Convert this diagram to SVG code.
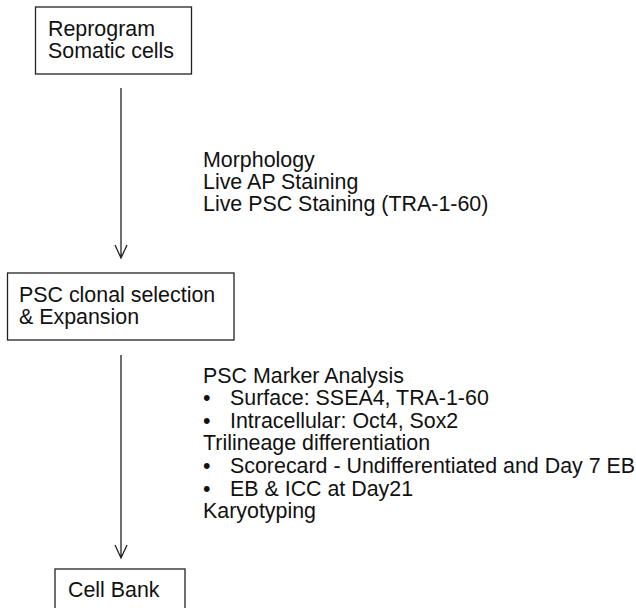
<svg xmlns="http://www.w3.org/2000/svg" width="636" height="608" viewBox="0 0 636 608">
  <style>
    .box { fill: #ffffff; stroke: #222222; stroke-width: 1.3; }
    .lbl { font-family: "Liberation Sans", Arial, Helvetica, sans-serif; font-size: 21.4px; fill: #111111; }
    .edge { fill: none; stroke: #222222; stroke-width: 1.3; }
  </style>
  <rect x="0" y="0" width="636" height="608" fill="#ffffff"/>

  <g id="reprogram">
    <rect class="box" x="35.5" y="7" width="156" height="67"/>
    <text class="lbl" x="48" y="36">Reprogram</text>
    <text class="lbl" x="48" y="58">Somatic cells</text>
  </g>

  <g id="clonal-selection">
    <rect class="box" x="7.5" y="273" width="226.5" height="67"/>
    <text class="lbl" x="19" y="302">PSC clonal selection</text>
    <text class="lbl" x="19" y="324">&amp; Expansion</text>
  </g>

  <g id="cell-bank">
    <rect class="box" x="55" y="569" width="130" height="60"/>
    <text class="lbl" x="68" y="597">Cell Bank</text>
  </g>

  <g id="connectors">
    <path class="edge" d="M121 88 V258 M115 245 L121 258 L127 245"/>
    <path class="edge" d="M121 355 V558 M115 545 L121 558 L127 545"/>
  </g>

  <g id="qc-reprogram">
    <text class="lbl" x="203" y="167">Morphology</text>
    <text class="lbl" x="203" y="189">Live AP Staining</text>
    <text class="lbl" x="203" y="211">Live PSC Staining (TRA-1-60)</text>
  </g>

  <g id="qc-expansion">
    <text class="lbl" x="203" y="383">PSC Marker Analysis</text>
    <text class="lbl" x="203" y="405">•</text>
    <text class="lbl" x="230" y="405">Surface: SSEA4, TRA-1-60</text>
    <text class="lbl" x="203" y="428">•</text>
    <text class="lbl" x="230" y="428">Intracellular: Oct4, Sox2</text>
    <text class="lbl" x="203" y="450">Trilineage differentiation</text>
    <text class="lbl" x="203" y="473">•</text>
    <text class="lbl" x="230" y="473">Scorecard - Undifferentiated and Day 7 EB</text>
    <text class="lbl" x="203" y="496">•</text>
    <text class="lbl" x="230" y="496">EB &amp; ICC at Day21</text>
    <text class="lbl" x="203" y="518">Karyotyping</text>
  </g>
</svg>
